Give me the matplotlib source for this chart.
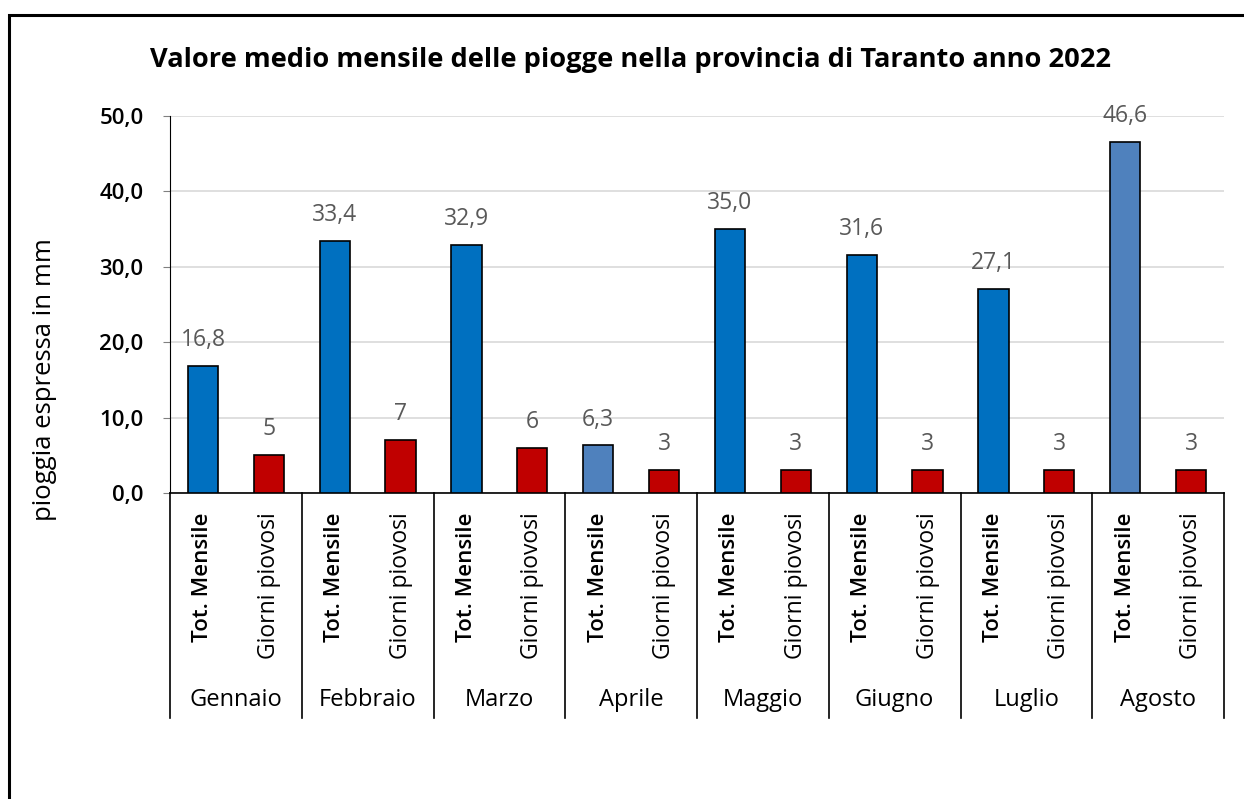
import matplotlib.pyplot as plt
from matplotlib.patches import Rectangle
from matplotlib.ticker import FuncFormatter

plt.rcParams['font.family'] = ['Open Sans', 'DejaVu Sans']

# Dati
mesi = ['Gennaio', 'Febbraio', 'Marzo', 'Aprile', 'Maggio', 'Giugno', 'Luglio', 'Agosto']
serie = ['Tot. Mensile', 'Giorni piovosi']
tot_mensile = [16.8, 33.4, 32.9, 6.3, 35.0, 31.6, 27.1, 46.6]
giorni_piovosi = [5, 7, 6, 3, 3, 3, 3, 3]
colori_tot = ['#0070C0', '#0070C0', '#0070C0', '#4F81BD', '#0070C0', '#0070C0', '#0070C0', '#4F81BD']
colore_giorni = '#C00000'

fig = plt.figure(figsize=(12.44, 7.99), dpi=100)
ax = fig.add_axes([170 / 1244, 1 - 493 / 799, 1054 / 1244, 377 / 799])

x_tot = [2 * i for i in range(len(mesi))]
x_gio = [2 * i + 1 for i in range(len(mesi))]
w = 0.46

b1 = ax.bar(x_tot, tot_mensile, width=w, color=colori_tot, edgecolor='black', linewidth=1.2, zorder=3)
b2 = ax.bar(x_gio, giorni_piovosi, width=w, color=colore_giorni, edgecolor='black', linewidth=1.2, zorder=3)

for rect, v in zip(b1, tot_mensile):
    ax.annotate(f'{v:.1f}'.replace('.', ','), (rect.get_x() + rect.get_width() / 2, v),
                xytext=(0, 10), textcoords='offset points', ha='center', va='bottom',
                fontsize=16.5, color='#595959')
for rect, v in zip(b2, giorni_piovosi):
    ax.annotate(f'{v}', (rect.get_x() + rect.get_width() / 2, v),
                xytext=(0, 10), textcoords='offset points', ha='center', va='bottom',
                fontsize=16.5, color='#595959')

ax.set_xlim(-0.5, 2 * len(mesi) - 0.5)
ax.set_ylim(0, 50)
ax.set_yticks([0, 10, 20, 30, 40, 50])
ax.yaxis.set_major_formatter(FuncFormatter(lambda v, p: f'{v:.1f}'.replace('.', ',')))
ax.tick_params(axis='y', labelsize=16, length=5, color='#808080', pad=14)
for lab in ax.get_yticklabels():
    lab.set_fontweight('semibold')
ax.grid(axis='y', color='#D9D9D9', linewidth=1.2, zorder=0)
ax.set_axisbelow(True)

ax.set_xticks(x_tot + x_gio)
ax.set_xticklabels([serie[0]] * len(mesi) + [serie[1]] * len(mesi), rotation=90, fontsize=16.5)
ax.tick_params(axis='x', length=0, pad=14)
for lab in ax.get_xticklabels():
    if lab.get_text() == serie[0]:
        lab.set_fontweight('semibold')
        lab.set_fontsize(16)

for s in ['top', 'right']:
    ax.spines[s].set_visible(False)
ax.spines['left'].set_color('black')
ax.spines['bottom'].set_color('black')
ax.spines['bottom'].set_linewidth(1.2)

# separatori e nomi dei mesi
trans = ax.get_xaxis_transform()
for i in range(len(mesi) + 1):
    ax.plot([2 * i - 0.5, 2 * i - 0.5], [0, -0.597], transform=trans, color='black',
            linewidth=1.2, clip_on=False)
for i, m in enumerate(mesi):
    ax.text(2 * i + 0.5, -0.549, m, transform=trans, ha='center', va='center', fontsize=17)

fig.text(630 / 1244, 1 - 60 / 799, 'Valore medio mensile delle piogge nella provincia di Taranto anno 2022',
         ha='center', va='center', fontsize=19.6, fontweight='bold')
fig.text(45 / 1244, 1 - 380 / 799, 'pioggia espressa in mm', rotation=90,
         ha='center', va='center', fontsize=18.5)

fig.patches.append(Rectangle((9 / 1244, -0.1), 1.2, 1 - 15 / 799 + 0.1, transform=fig.transFigure,
                             fill=False, edgecolor='black', linewidth=2.2, zorder=10))

fig.savefig('out.png', dpi=100)
